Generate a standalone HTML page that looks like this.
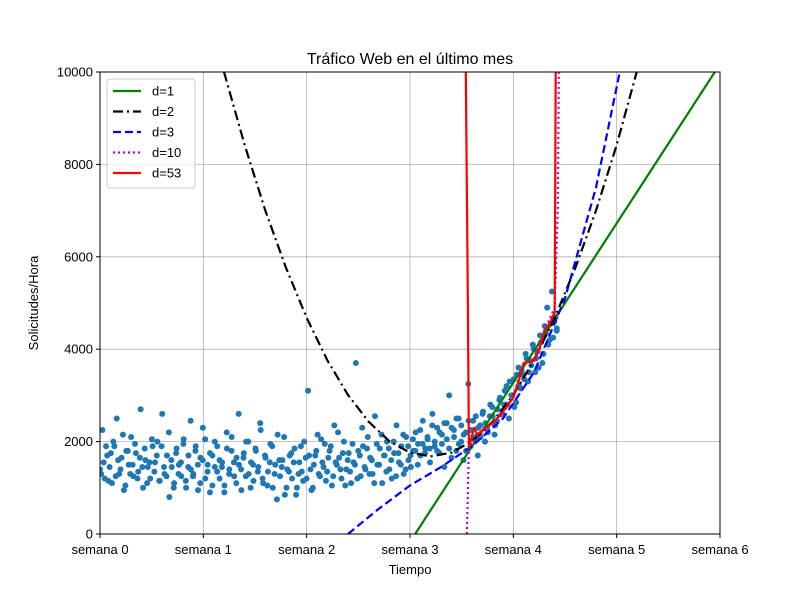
<!DOCTYPE html>
<html><head><meta charset="utf-8"><style>
body{margin:0;background:#fff;}
svg{font-family:"Liberation Sans",sans-serif;}
</style></head><body>
<svg id="chart" width="800" height="600">
<rect width="800" height="600" fill="#fff"/>
<g id="grid"></g>
<g id="marks"></g>
<g id="axes"></g>
</svg>
<script>
const xTickLabels=["semana 0","semana 1","semana 2","semana 3","semana 4","semana 5","semana 6"];
const yTicks=[0,2000,4000,6000,8000,10000];
const trafficValues=[1400,2250,1200,1700,1450,1100,1900,2500,1300,1650,950,1800,1500,2100,1250,1750,1350,2700,1000,1600,1450,1200,1900,1550,2000,1150,2600,1300,1700,800,1450,1100,1850,1500,1250,2050,1000,1700,1400,1300,1900,950,1650,2300,1200,1500,1750,1050,2000,1350,1600,1450,900,2200,1300,1800,1550,1100,2600,1400,1650,1250,2000,1000,1500,1850,1350,2400,1200,1700,1050,1550,1900,1300,750,1600,1450,2100,1000,1350,1750,1550,850,1300,1900,1150,1650,3100,1400,1000,1700,2150,1250,1550,1950,1350,1800,1050,2350,1500,1650,1200,2000,1400,1750,1100,1550,3700,1800,1250,1900,1400,2100,1650,1300,2550,1500,1850,1100,1700,2000,1400,1200,1750,2350,1550,1900,1300,2100,1600,1450,1800,2200,1950,1700,2450,1850,2050,1550,2600,1900,2300,1750,2150,1450,2400,3000,1650,2250,1800,2500,2000,1600,2200,3250,1900,2450,2100,1700,2350,2600,2000,2250,2550,2750,2150,2450,2900,2600,2800,3200,2500,3000,3350,2850,3600,3150,3450,3900,3300,3750,4100,3500,3950,4300,3700,4500,4900,4200,5250,4600,4400];
const trafficValuesB=[1300,1550,1900,1150,1750,2000,1250,1600,1400,2150,1050,1800,1300,1500,1950,1200,1650,1450,1850,1100,1550,2050,1350,1700,1150,1900,1450,1250,2200,1600,1000,1750,1300,1550,1950,1150,1450,2450,1250,1800,1500,1100,1600,2050,1350,900,1700,1450,1900,1200,1550,1050,1850,1400,2100,1250,1650,1500,950,1750,2000,1300,1550,1150,1800,1450,2250,1100,1650,1350,1950,1000,1500,2150,1250,1600,850,1400,1700,1200,1850,1000,1550,1350,2000,1200,1700,950,1500,1800,1300,2050,1450,1150,1650,1900,1250,1550,2200,1400,1750,1050,1600,1350,1950,1500,1200,1700,2300,1450,1850,1300,1600,1100,1950,1500,2150,1700,1350,1850,1600,2000,1250,1750,1500,2150,1400,1900,1700,2050,1800,1500,2250,1950,1750,2100,1850,2350,2000,1800,2200,1950,2400,2050,1850,2300,2100,2500,1950,2350,2150,1800,2450,2250,2050,2550,2300,2100,2650,2400,2200,2800,2550,2350,2700,2950,2600,3100,2800,3300,3000,2750,3450,3200,3550,3350,3800,3500,3650,4000,3800,3600,4150,3900,4350,4100,4550,4250,4700,4450];
const weekSpan=[0,4.42];
const d1X=[3.05,5.95];
const d1Y=[0,10000];
const d2X=[1.2,1.4,1.6,1.8,2.0,2.2,2.4,2.6,2.8,3.0,3.2,3.4,3.6,3.8,4.0,4.2,4.4,4.6,4.8,5.0,5.2];
const d2Y=[10000,8420,7000,5760,4680,3760,3010,2430,2010,1760,1680,1760,2010,2430,3010,3760,4680,5760,7000,8420,10050];
const d3X=[2.4,2.7,3.0,3.3,3.6,3.9,4.2,4.5,4.8,5.03];
const d3Y=[0,550,1050,1450,1900,2500,3500,5100,7500,10000];
const d10X=[3.55,3.56,3.57,3.7,3.9,4.0,4.1,4.2,4.3,4.4,4.43,4.44];
const d10Y=[0,900,1900,2200,2600,3000,3700,3800,4400,4900,7000,10000];
const d53X=[3.54,3.56,3.57,3.62,3.65,3.7,3.8,3.9,4.0,4.05,4.1,4.2,4.25,4.3,4.35,4.4,4.41];
const d53Y=[10000,5000,1880,2300,2150,2250,2400,2650,2950,3300,3700,3750,4000,4400,4550,4800,10000];
const NS="http://www.w3.org/2000/svg";
const L=100,R=720,T=72,B=534;
const sx=w=>L+(w/6)*(R-L), sy=v=>B-(v/10000)*(B-T);
function el(t,a,p){const e=document.createElementNS(NS,t);for(const k in a)e.setAttribute(k,a[k]);(p||document.getElementById('marks')).appendChild(e);return e;}
const grid=document.getElementById('grid'),axes=document.getElementById('axes'),svg=document.getElementById('chart');
xTickLabels.forEach((lab,i)=>{const x=sx(i);
 const g=el('line',{x1:x,x2:x,y1:T,y2:B,stroke:'#b0b0b0','stroke-width':0.8},grid);
 el('line',{x1:x,x2:x,y1:B,y2:B+4,stroke:'#000'},axes);
 const t=el('text',{x:x,y:B+20,'text-anchor':'middle','font-size':13},axes);t.textContent=lab;});
yTicks.forEach(v=>{const y=sy(v);
 const g=el('line',{x1:L,x2:R,y1:y,y2:y,stroke:'#b0b0b0','stroke-width':0.8},grid);
 el('line',{x1:L-4,x2:L,y1:y,y2:y,stroke:'#000'},axes);
 const t=el('text',{x:L-7,y:y+4.5,'text-anchor':'end','font-size':13},axes);t.textContent=v;});
const cp=el('clipPath',{id:'clip'},svg);el('rect',{x:L,y:T,width:R-L,height:B-T},cp);
const marks=document.getElementById('marks');marks.setAttribute('clip-path','url(#clip)');
function scatter(vals,offset){const n=vals.length;const step=(weekSpan[1]-weekSpan[0])/(n-1);
 vals.forEach((v,i)=>{const w=Math.min(weekSpan[1],weekSpan[0]+step*(i+offset));
 const c=el('circle',{cx:sx(w),cy:sy(v),r:3,fill:'#1f77b4'});});}
scatter(trafficValues,0);
scatter(trafficValuesB,0.5);
function line(xs,ys,color,dash,name){const d=xs.map((x,i)=>(i?'L':'M')+sx(x)+','+sy(ys[i])).join('');
 const p=el('path',{d:d,fill:'none',stroke:color,'stroke-width':2.2,'stroke-dasharray':dash||'none','stroke-linejoin':'round'});}
line(d1X,d1Y,'green','', 'fit-d1');
line(d2X,d2Y,'black','10,4,2,4','fit-d2');
line(d3X,d3Y,'blue','8,4','fit-d3');
line(d10X,d10Y,'#bf00bf','2,3','fit-d10');
line(d53X,d53Y,'red','','fit-d53');
const f=el('rect',{x:L,y:T,width:R-L,height:B-T,fill:'none',stroke:'#000','stroke-width':1},axes);
const tt=el('text',{x:410,y:64,'text-anchor':'middle','font-size':16},axes);tt.textContent='Tráfico Web en el último mes';
const xt=el('text',{x:410,y:574,'text-anchor':'middle','font-size':13},axes);xt.textContent='Tiempo';
const yt=el('text',{x:38,y:303,'text-anchor':'middle','font-size':13,transform:'rotate(-90 38 303)'},axes);yt.textContent='Solicitudes/Hora';
const lg=el('g',{},axes);
el('rect',{x:107,y:79,width:88,height:109,rx:3,fill:'#fff','fill-opacity':0.8,stroke:'#ccc'},lg);
const legendNames=['d=1','d=2','d=3','d=10','d=53'];
const legendStyles=[['green',''],['black','10,4,2,4'],['blue','8,4'],['#bf00bf','2,3'],['red','']];
legendNames.forEach((nm,i)=>{const y=91+i*20.5;
 el('line',{x1:113,x2:141,y1:y,y2:y,stroke:legendStyles[i][0],'stroke-width':2.2,'stroke-dasharray':legendStyles[i][1]||'none'},lg);
 const t=el('text',{x:152,y:y+4.5,'font-size':13},lg);t.textContent=nm;});
</script>
</body></html>
